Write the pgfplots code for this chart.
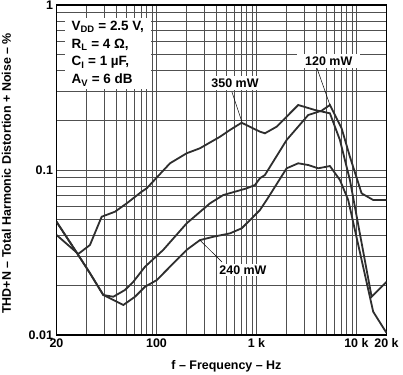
\documentclass[border=0pt]{standalone}
\usepackage{pgfplots}
\pgfplotsset{compat=1.18}
\usepackage{fontspec}
\setmainfont{Liberation Sans}
\definecolor{curvec}{HTML}{2E2E2E}
\definecolor{gridc}{HTML}{505050}
\begin{document}
\begin{tikzpicture}
\useasboundingbox (-56.5bp,-40bp) rectangle (346.5bp,335bp);
\begin{axis}[
 at={(0,0)}, anchor=south west,
 scale only axis, width=330bp, height=330bp,
 xmode=log, ymode=log,
 xmin=10, xmax=20000, ymin=0.01, ymax=1,
 xtick={10,100,1000,10000,20000},
 xticklabels={20,100,1 k,10 k,20 k},
 minor xtick={20,30,40,50,60,70,80,90,200,300,400,500,600,700,800,900,2000,3000,4000,5000,6000,7000,8000,9000},
 ytick={0.01,0.1,1},
 yticklabels={0.01,0.1,1},
 minor ytick={0.02,0.03,0.04,0.05,0.06,0.07,0.08,0.09,0.2,0.3,0.4,0.5,0.6,0.7,0.8,0.9},
 xmajorgrids=true, xminorgrids=true, ymajorgrids=true, yminorgrids=true,
 major grid style={draw=gridc, line width=0.6bp},
 minor grid style={draw=gridc, line width=0.6bp},
 major tick length=0pt, minor tick length=0pt,
 axis line style={line width=1.2bp},
 tick label style={font=\fontsize{12.5}{14}\selectfont\bfseries},
 label style={font=\fontsize{12.5}{14}\selectfont\bfseries},
 xlabel={f -- Frequency -- Hz},
 ylabel={THD+N -- Total Harmonic Distortion + Noise -- \%},
 xlabel style={at={(axis description cs:0.515,-0.094)}, anchor=center},
 ylabel style={at={(axis description cs:-0.152,0.49)}, anchor=center},
]
% 350 mW
\addplot[curvec, line width=1.8bp, no marks] coordinates {
(10,0.0404) (16.5,0.0310) (21.6,0.0351) (28.3,0.0521) (38.5,0.0559)
(50.4,0.0628) (71.1,0.0739) (79.8,0.0774) (136.5,0.1098) (200.4,0.1263)
(272,0.1354) (431.5,0.159) (543,0.1748) (711,0.1935) (1084,0.1707)
(1216,0.1669) (1592,0.183) (2618,0.2477) (3846,0.231) (5433,0.2206)
(6839,0.152) (8610,0.087) (14190,0.01706) (20000,0.0210)
};
% 120 mW
\addplot[curvec, line width=1.8bp, no marks] coordinates {
(10,0.0486) (15.3,0.0328) (21.6,0.0237) (29.4,0.01747) (37,0.01706)
(48.4,0.01874) (58.6,0.0210) (76.7,0.0259) (116.9,0.0328) (200.4,0.0475)
(342.8,0.0628) (465.6,0.0705) (797.6,0.0774) (966,0.0811) (1084,0.0891)
(1216,0.0933) (2004,0.152) (3296,0.2154) (4487,0.2288) (5433,0.2477)
(7112,0.1789) (8610,0.1204) (11270,0.0722) (14720,0.0658) (20000,0.0658)
};
% 240 mW
\addplot[curvec, line width=1.8bp, no marks] coordinates {
(10,0.0486) (15.3,0.0328) (21.6,0.0237) (29.4,0.01747) (46.6,0.0152)
(61,0.01706) (76.7,0.0196) (100.5,0.0215) (200.4,0.0328) (272,0.0376)
(369.8,0.0394) (543,0.0413) (711,0.0443) (861,0.0497) (1084,0.0572)
(1265,0.0658) (2004,0.1024) (2618,0.1098) (3296,0.1072) (4150,0.1024)
(5433,0.1057) (6839,0.087) (8279,0.0658) (14720,0.01384) (20000,0.0103)
};
\draw[line width=0.5bp] (axis cs:569,0.297) -- (axis cs:716,0.1954);
\draw[line width=0.5bp] (axis cs:4027,0.415) -- (axis cs:5433,0.2477);
\draw[line width=0.5bp] (axis cs:272,0.0376) -- (axis cs:452,0.0277);
\node[fill=white, inner sep=2.5bp, font=\fontsize{12.5}{14}\selectfont\bfseries]
  at (rel axis cs:0.541,0.764) {350 mW};
\node[fill=white, inner xsep=8bp, inner ysep=2.5bp, font=\fontsize{12.5}{14}\selectfont\bfseries]
  at (rel axis cs:0.825,0.830) {120 mW};
\node[fill=white, inner sep=1.5bp, font=\fontsize{12.5}{14}\selectfont\bfseries]
  at (rel axis cs:0.565,0.197) {240 mW};
\node[fill=white, anchor=north west, inner xsep=7bp, inner ysep=3bp, align=left,
  font=\fontsize{13.5}{18}\selectfont\bfseries]
  at (rel axis cs:0.024,0.962)
  {V\textsubscript{DD} = 2.5 V,\\ R\textsubscript{L} = 4 Ω,\\ C\textsubscript{I} = 1 µF,\\ A\textsubscript{V} = 6 dB};
\end{axis}
\end{tikzpicture}
\end{document}
